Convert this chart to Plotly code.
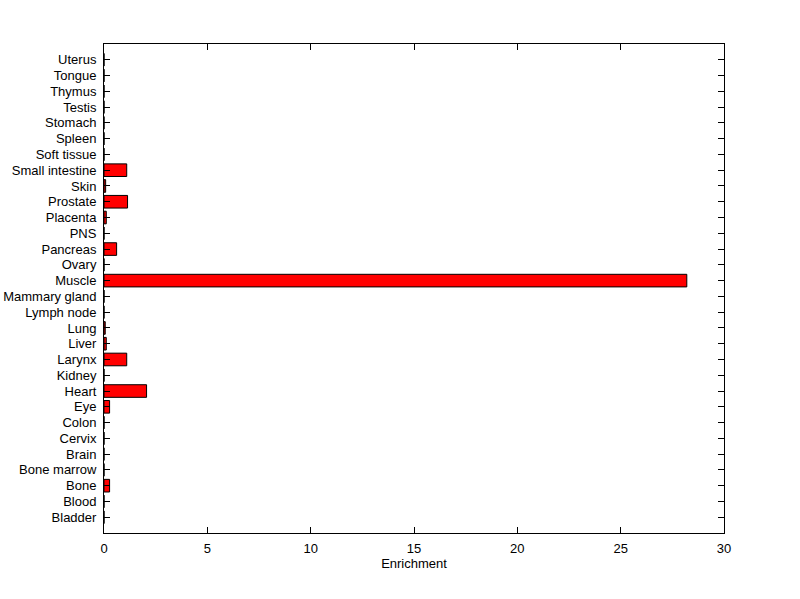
import plotly.graph_objects as go

categories = ["Bladder", "Blood", "Bone", "Bone marrow", "Brain", "Cervix", "Colon",
              "Eye", "Heart", "Kidney", "Larynx", "Liver", "Lung", "Lymph node",
              "Mammary gland", "Muscle", "Ovary", "Pancreas", "PNS", "Placenta",
              "Prostate", "Skin", "Small intestine", "Soft tissue", "Spleen",
              "Stomach", "Testis", "Thymus", "Tongue", "Uterus"]
enrichment = [0, 0, 0.27, 0, 0, 0, 0,
              0.27, 2.06, 0, 1.10, 0.11, 0.06, 0,
              0, 28.2, 0, 0.61, 0, 0.11,
              1.14, 0.08, 1.10, 0, 0,
              0, 0, 0, 0, 0]
x_ticks = [0, 5, 10, 15, 20, 25, 30]

positions = list(range(1, len(categories) + 1))

fig = go.Figure()
fig.add_trace(go.Bar(
    x=enrichment, y=positions, orientation="h", width=0.8,
    marker=dict(color="#ff0000", line=dict(color="black", width=1)),
    hoverinfo="x+text", text=categories, textposition="none",
))

fig.update_layout(
    width=800, height=599,
    margin=dict(l=104, r=76, t=44, b=66, autoexpand=False),
    paper_bgcolor="white", plot_bgcolor="white",
    font=dict(family="Liberation Sans, Arial, Helvetica, sans-serif", size=13, color="black"),
    showlegend=False,
)
fig.update_xaxes(
    range=[0, 30], tickvals=x_ticks, ticktext=[str(t) for t in x_ticks],
    ticks="inside", ticklen=6, tickcolor="black", tickwidth=1,
    showline=True, linecolor="black", linewidth=1, mirror="allticks",
    showgrid=False, zeroline=False, automargin=False,
    ticklabelstandoff=3,
    title=dict(text="Enrichment", standoff=3, font=dict(size=13)),
    tickfont=dict(size=13),
)
fig.update_yaxes(
    range=[0, len(categories) + 1], tickvals=positions, ticktext=categories,
    ticks="inside", ticklen=6, tickcolor="black", tickwidth=1,
    showline=True, linecolor="black", linewidth=1, mirror="allticks",
    showgrid=False, zeroline=False, automargin=False,
    ticklabelstandoff=4,
    tickfont=dict(size=13),
)

# remove the page's default body margin so the 800x599 figure fills the window exactly
fig.write_html("out.html", config={"displayModeBar": False},
               post_script="document.body.style.margin='0';")
